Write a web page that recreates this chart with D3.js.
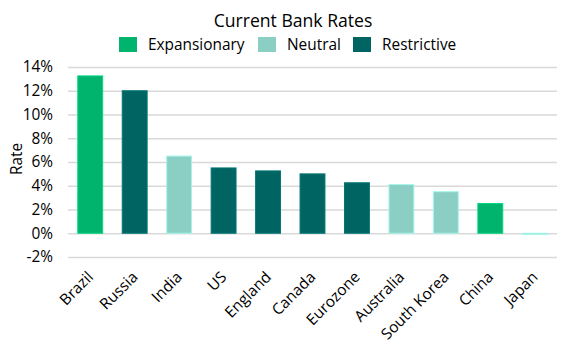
<!DOCTYPE html>
<html>
<head>
<meta charset="utf-8">
<script src="https://cdn.jsdelivr.net/npm/d3@7"></script>
<style>
  body { margin: 0; background: #fff; }
  text { font-family: "Open Sans", sans-serif; fill: #000; }
</style>
</head>
<body>
<script>
var countries = ["Brazil", "Russia", "India", "US", "England", "Canada", "Eurozone", "Australia", "South Korea", "China", "Japan"],
	rates = [13.25, 12, 6.5, 5.5, 5.25, 5, 4.25, 4.1, 3.5, 2.5, -0.1],
	stance = ["Expansionary", "Restrictive", "Neutral", "Restrictive", "Restrictive", "Restrictive", "Restrictive", "Neutral", "Neutral", "Expansionary", "Neutral"],
	stances = ["Expansionary", "Neutral", "Restrictive"],
	colors = ["#00b46e", "#8acec4", "#006462"],
	yTicks = [-2, 0, 2, 4, 6, 8, 10, 12, 14];

var width = 581, height = 350,
	margin = {top: 67, right: 24, bottom: 93, left: 68};

var color = d3.scaleOrdinal().domain(stances).range(colors);

var x = d3.scaleBand()
	.domain(countries)
	.range([margin.left, width - margin.right])
	.paddingInner(0.44)
	.paddingOuter(0.22);

var y = d3.scaleLinear()
	.domain([-2, 14])
	.range([height - margin.bottom, margin.top]);

var svg = d3.select('body').append('svg')
	.attr('width', width)
	.attr('height', height);

// title
svg.append('text')
	.attr('x', 293)
	.attr('y', 27)
	.attr('text-anchor', 'middle')
	.style('font-size', '17.6px')
	.text('Current Bank Rates');

// legend
var legendX = [119, 258, 353];
var legend = svg.append('g').selectAll('g')
	.data(stances)
	.enter().append('g')
	.attr('transform', function(d, i) { return 'translate(' + legendX[i] + ',37)'; });
legend.append('rect')
	.attr('width', 18)
	.attr('height', 15)
	.attr('fill', function(d) { return color(d); });
legend.append('text')
	.attr('x', 29)
	.attr('y', 13)
	.style('font-size', '15.4px')
	.text(function(d) { return d; });

// gridlines + y axis labels
var yAxis = d3.axisLeft(y)
	.tickValues(yTicks)
	.tickSize(-(width - margin.left - margin.right))
	.tickPadding(15)
	.tickFormat(function(d) { return d + '%'; });

var gy = svg.append('g')
	.attr('transform', 'translate(' + margin.left + ',0)')
	.call(yAxis);
gy.select('.domain').remove();
gy.selectAll('.tick line')
	.attr('stroke', '#d9d9d9')
	.attr('stroke-width', 1.5);
gy.selectAll('.tick text')
	.style('font-size', '15.4px')
	.style('font-family', '"Open Sans", sans-serif')
	.attr('fill', '#000');

// y axis title
svg.append('text')
	.attr('transform', 'translate(22,159) rotate(-90)')
	.attr('text-anchor', 'middle')
	.style('font-size', '15.4px')
	.text('Rate');

// bars
svg.append('g').selectAll('rect')
	.data(countries)
	.enter().append('rect')
	.attr('x', function(d) { return x(d); })
	.attr('width', x.bandwidth())
	.attr('y', function(d, i) { return y(Math.max(0, rates[i])); })
	.attr('height', function(d, i) { return Math.abs(y(rates[i]) - y(0)); })
	.attr('fill', function(d, i) { return color(stance[i]); })
	.attr('stroke', function(d, i) { return d3.rgb(color(stance[i])).brighter(0.5); })
	.attr('stroke-width', 1);

// x axis labels
var xAxis = d3.axisBottom(x).tickSize(0).tickPadding(0);
var gx = svg.append('g')
	.attr('transform', 'translate(0,' + (height - margin.bottom) + ')')
	.call(xAxis);
gx.select('.domain').remove();
gx.selectAll('.tick text')
	.style('font-size', '15.4px')
	.style('font-family', '"Open Sans", sans-serif')
	.attr('fill', '#000')
	.attr('text-anchor', 'end')
	.attr('y', 0)
	.attr('dy', 0)
	.attr('transform', 'translate(4,21) rotate(-45)');
</script>
</body>
</html>
